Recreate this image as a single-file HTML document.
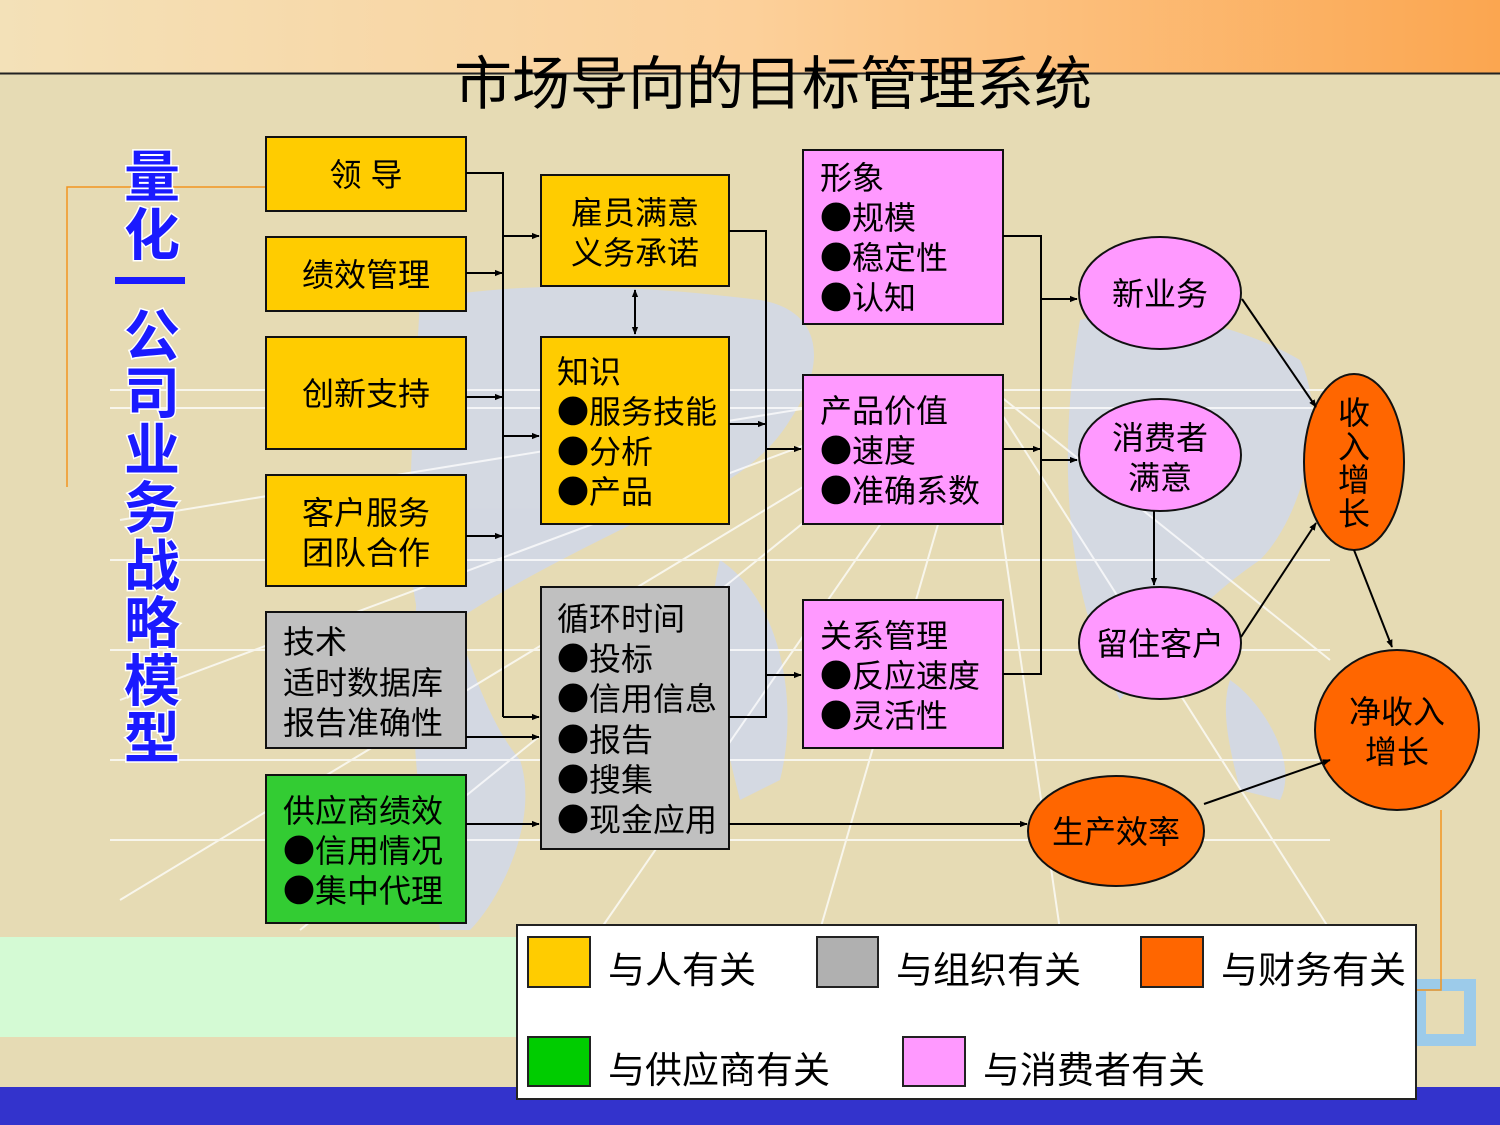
<!DOCTYPE html>
<html><head><meta charset="utf-8"><style>
html,body{margin:0;padding:0;width:1500px;height:1125px;overflow:hidden;background:#e6dbb4}
svg{display:block}
text{font-family:"Liberation Sans","Noto Sans CJK SC",sans-serif;fill:#000}
.b{font-family:"Noto Sans CJK SC",sans-serif}
</style></head><body>
<svg width="1500" height="1125" viewBox="0 0 1500 1125" xmlns="http://www.w3.org/2000/svg">
<defs>
<linearGradient id="tg" x1="0" x2="1" y1="0" y2="0">
<stop offset="0" stop-color="#f3e1b8"/><stop offset="0.5" stop-color="#fcd09a"/><stop offset="1" stop-color="#fba650"/></linearGradient>
<marker id="a" viewBox="0 0 10 10" refX="9" refY="5" markerWidth="8" markerHeight="8" orient="auto-start-reverse" markerUnits="userSpaceOnUse"><path d="M0,1 L10,5 L0,9 z" fill="#000"/></marker>
</defs>
<rect width="1500" height="1125" fill="#e6dbb4"/>
<rect width="1500" height="73" fill="url(#tg)"/>
<line x1="0" y1="73.5" x2="1500" y2="73.5" stroke="#222" stroke-width="2"/>
<g fill="#cfd8ee" opacity="0.8">
<path d="M420,300 C520,280 640,285 760,300 C820,310 830,360 790,420 C760,470 700,500 640,520 C560,560 480,600 430,640 C400,600 410,480 420,300z"/>
<path d="M420,560 C460,600 470,700 520,760 C540,820 500,900 470,930 L440,930 C430,850 400,760 420,560z"/>
<path d="M1080,320 C1150,300 1250,330 1300,360 C1330,420 1300,520 1260,560 C1200,600 1150,660 1120,700 C1080,620 1050,500 1080,320z"/>
<path d="M720,560 C780,600 800,700 780,780 L740,800 C720,720 700,640 720,560z"/>
<path d="M1230,680 C1260,700 1300,760 1280,800 L1240,790 C1230,750 1220,710 1230,680z"/>
</g>
<g stroke="#fff" stroke-width="2" opacity="0.75">
<line x1="110" y1="390" x2="1330" y2="390"/><line x1="110" y1="408" x2="1330" y2="408"/>
<line x1="110" y1="560" x2="1330" y2="560"/><line x1="110" y1="650" x2="1330" y2="650"/>
<line x1="110" y1="760" x2="1330" y2="760"/><line x1="110" y1="840" x2="1330" y2="840"/>
<line x1="980" y1="380" x2="120" y2="700"/><line x1="980" y1="380" x2="120" y2="900"/>
<line x1="980" y1="380" x2="300" y2="930"/><line x1="980" y1="380" x2="600" y2="930"/>
<line x1="980" y1="380" x2="820" y2="930"/><line x1="980" y1="380" x2="1060" y2="930"/>
<line x1="980" y1="380" x2="1330" y2="930"/><line x1="980" y1="380" x2="1330" y2="660"/>
<line x1="980" y1="380" x2="120" y2="520"/>
</g>
<rect x="0" y="937" width="520" height="100" fill="#d4fad4"/>
<rect x="0" y="1087" width="1500" height="38" fill="#3333cc"/>
<path d="M1420,985 H1470 V1040 H1420 Z" fill="none" stroke="#9ccbea" stroke-width="12"/>
<path d="M67,487 V187 H266" fill="none" stroke="#f29420" stroke-width="1.5"/>
<path d="M1441,810 V990 H1416" fill="none" stroke="#f29420" stroke-width="1.5"/>

<text x="773" y="104" font-size="58" text-anchor="middle">市场导向的目标管理系统</text>
<g font-size="56" font-weight="bold" text-anchor="middle" stroke="#fff" stroke-width="3" style="paint-order:stroke">
<text x="152" y="197" style="fill:#1a1aff">量</text>
<text x="152" y="255" style="fill:#1a1aff">化</text>
<text x="152" y="356" style="fill:#1a1aff">公</text>
<text x="152" y="413" style="fill:#1a1aff">司</text>
<text x="152" y="470" style="fill:#1a1aff">业</text>
<text x="152" y="528" style="fill:#1a1aff">务</text>
<text x="152" y="586" style="fill:#1a1aff">战</text>
<text x="152" y="643" style="fill:#1a1aff">略</text>
<text x="152" y="701" style="fill:#1a1aff">模</text>
<text x="152" y="758" style="fill:#1a1aff">型</text>
</g>
<rect x="115" y="277" width="70" height="7" fill="#1a1aff"/>

<g stroke="#111" stroke-width="2">
<rect x="266" y="137" width="200" height="74" fill="#ffcc00"/>
<rect x="266" y="237" width="200" height="74" fill="#ffcc00"/>
<rect x="266" y="337" width="200" height="112" fill="#ffcc00"/>
<rect x="266" y="475" width="200" height="111" fill="#ffcc00"/>
<rect x="266" y="612" width="200" height="136" fill="#c0c0c0"/>
<rect x="266" y="775" width="200" height="148" fill="#33cc33"/>
<rect x="541" y="175" width="188" height="111" fill="#ffcc00"/>
<rect x="541" y="337" width="188" height="187" fill="#ffcc00"/>
<rect x="541" y="587" width="188" height="262" fill="#c0c0c0"/>
<rect x="803" y="150" width="200" height="174" fill="#ff99ff"/>
<rect x="803" y="375" width="200" height="149" fill="#ff99ff"/>
<rect x="803" y="600" width="200" height="148" fill="#ff99ff"/>
<ellipse cx="1160" cy="293" rx="81" ry="56" fill="#ff99ff"/>
<ellipse cx="1160" cy="455" rx="81" ry="56" fill="#ff99ff"/>
<ellipse cx="1160" cy="643" rx="81" ry="56" fill="#ff99ff"/>
<ellipse cx="1354" cy="462" rx="50" ry="88" fill="#ff6600"/>
<ellipse cx="1397" cy="730" rx="82" ry="80" fill="#ff6600"/>
<ellipse cx="1116" cy="831" rx="88" ry="55" fill="#ff6600"/>
</g>

<g stroke="#000" stroke-width="2" fill="none">
<path d="M466,173 H503 V717"/>
<path d="M503,236 H539" marker-end="url(#a)"/>
<path d="M503,436 H539" marker-end="url(#a)"/>
<path d="M503,717 H539" marker-end="url(#a)"/>
<path d="M466,273 H502" marker-end="url(#a)"/>
<path d="M466,397 H502" marker-end="url(#a)"/>
<path d="M466,536 H502" marker-end="url(#a)"/>
<path d="M466,737 H539" marker-end="url(#a)"/>
<path d="M466,824 H539" marker-end="url(#a)"/>
<path d="M729,231 H766 V717 H729"/>
<path d="M729,424 H765" marker-end="url(#a)"/>
<path d="M766,449 H801" marker-end="url(#a)"/>
<path d="M766,675 H801" marker-end="url(#a)"/>
<path d="M635,290 V334" marker-start="url(#a)" marker-end="url(#a)"/>
<path d="M729,824 H1027" marker-end="url(#a)"/>
<path d="M1003,236 H1041 V674 H1003"/>
<path d="M1003,449 H1040" marker-end="url(#a)"/>
<path d="M1041,299 H1077" marker-end="url(#a)"/>
<path d="M1041,460 H1077" marker-end="url(#a)"/>
<path d="M1242,299 L1316,407" marker-end="url(#a)"/>
<path d="M1154,511 V585" marker-end="url(#a)"/>
<path d="M1241,637 L1316,523" marker-end="url(#a)"/>
<path d="M1354,550 L1392,647" marker-end="url(#a)"/>
<path d="M1204,804 L1330,760" marker-end="url(#a)"/>
</g>

<g font-size="32">
<text x="366" y="186" text-anchor="middle">领  导</text>
<text x="366" y="286" text-anchor="middle">绩效管理</text>
<text x="366" y="405" text-anchor="middle">创新支持</text>
<text x="366" y="524" text-anchor="middle">客户服务</text>
<text x="366" y="564" text-anchor="middle">团队合作</text>
<text x="283" y="653">技术</text>
<text x="283" y="694">适时数据库</text>
<text x="283" y="734">报告准确性</text>
<text x="283" y="822">供应商绩效</text>
<text x="283" y="862"><tspan class="b">●</tspan>信用情况</text>
<text x="283" y="902"><tspan class="b">●</tspan>集中代理</text>
<text x="635" y="224" text-anchor="middle">雇员满意</text>
<text x="635" y="264" text-anchor="middle">义务承诺</text>
<text x="557" y="383">知识</text>
<text x="557" y="423"><tspan class="b">●</tspan>服务技能</text>
<text x="557" y="463"><tspan class="b">●</tspan>分析</text>
<text x="557" y="503"><tspan class="b">●</tspan>产品</text>
<text x="557" y="630">循环时间</text>
<text x="557" y="670"><tspan class="b">●</tspan>投标</text>
<text x="557" y="710"><tspan class="b">●</tspan>信用信息</text>
<text x="557" y="751"><tspan class="b">●</tspan>报告</text>
<text x="557" y="791"><tspan class="b">●</tspan>搜集</text>
<text x="557" y="831"><tspan class="b">●</tspan>现金应用</text>
<text x="820" y="189">形象</text>
<text x="820" y="229"><tspan class="b">●</tspan>规模</text>
<text x="820" y="269"><tspan class="b">●</tspan>稳定性</text>
<text x="820" y="309"><tspan class="b">●</tspan>认知</text>
<text x="820" y="422">产品价值</text>
<text x="820" y="462"><tspan class="b">●</tspan>速度</text>
<text x="820" y="502"><tspan class="b">●</tspan>准确系数</text>
<text x="820" y="647">关系管理</text>
<text x="820" y="687"><tspan class="b">●</tspan>反应速度</text>
<text x="820" y="727"><tspan class="b">●</tspan>灵活性</text>
<text x="1160" y="305" text-anchor="middle">新业务</text>
<text x="1160" y="449" text-anchor="middle">消费者</text>
<text x="1160" y="489" text-anchor="middle">满意</text>
<text x="1160" y="655" text-anchor="middle">留住客户</text>
<text x="1354" y="424" text-anchor="middle">收</text>
<text x="1354" y="458" text-anchor="middle">入</text>
<text x="1354" y="491" text-anchor="middle">增</text>
<text x="1354" y="525" text-anchor="middle">长</text>
<text x="1397" y="723" text-anchor="middle">净收入</text>
<text x="1397" y="763" text-anchor="middle">增长</text>
<text x="1116" y="843" text-anchor="middle">生产效率</text>
</g>

<rect x="517" y="925" width="899" height="174" fill="#fff" stroke="#222" stroke-width="2"/>
<g stroke="#222" stroke-width="2">
<rect x="528" y="937" width="62" height="50" fill="#ffcc00"/>
<rect x="817" y="937" width="61" height="50" fill="#b0b0b0"/>
<rect x="1141" y="937" width="62" height="50" fill="#ff6600"/>
<rect x="528" y="1037" width="62" height="49" fill="#00cc00"/>
<rect x="903" y="1037" width="62" height="49" fill="#ff99ff"/>
</g>
<g font-size="37">
<text x="608" y="983">与人有关</text>
<text x="896" y="983">与组织有关</text>
<text x="1221" y="983">与财务有关</text>
<text x="608" y="1083">与供应商有关</text>
<text x="983" y="1083">与消费者有关</text>
</g>
</svg>
</body></html>
